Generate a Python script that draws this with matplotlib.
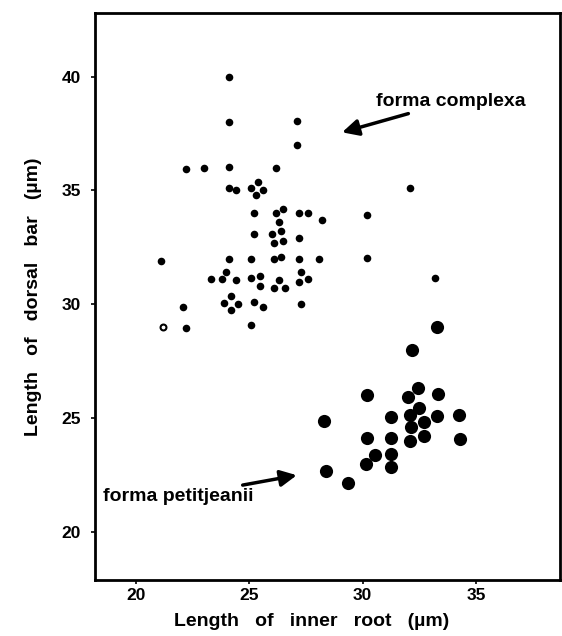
import matplotlib
matplotlib.use("Agg")
import matplotlib.pyplot as plt

plt.rcParams["font.family"] = ["Liberation Sans", "DejaVu Sans"]
plt.rcParams["font.weight"] = "bold"

# forma complexa (small dots)
complexa_x = [24.1, 24.1, 27.1, 27.1, 22.2, 23.0, 24.1, 26.2, 24.1, 24.4,
              25.1, 25.4, 25.6, 25.3, 26.5, 25.2, 26.2, 27.2, 27.6, 28.2,
              26.3, 25.2, 26.0, 26.4, 26.1, 26.5, 27.2, 21.1, 24.1, 25.1,
              26.1, 26.4, 27.2, 28.1, 24.0, 23.3, 23.8, 24.4, 25.1, 25.5,
              25.5, 26.3, 26.1, 26.6, 27.3, 27.2, 27.6, 24.2, 23.9, 24.5,
              24.2, 25.2, 25.6, 27.3, 22.1, 22.2, 25.1, 32.1, 30.2, 30.2,
              33.2]
complexa_y = [40.0, 38.0, 38.05, 37.0, 35.95, 36.0, 36.05, 36.0, 35.1, 35.0,
              35.1, 35.35, 35.0, 34.8, 34.2, 34.0, 34.0, 34.0, 34.0, 33.7,
              33.6, 33.1, 33.1, 33.2, 32.7, 32.8, 32.9, 31.9, 32.0, 32.0,
              32.0, 32.1, 32.0, 32.0, 31.4, 31.1, 31.1, 31.05, 31.15, 31.25,
              30.8, 31.05, 30.7, 30.7, 31.4, 31.0, 31.1, 30.35, 30.05, 30.0,
              29.75, 30.1, 29.9, 30.0, 29.9, 28.95, 29.1, 35.1, 33.9, 32.05,
              31.15]
# one open specimen
open_x = [21.2]
open_y = [29.0]

# forma petitjeanii (large dots)
petit_x = [33.3, 32.2, 30.2, 32.45, 32.0, 33.35, 28.3, 31.25, 32.5, 32.1,
           33.3, 34.25, 32.7, 32.15, 30.2, 31.25, 32.7, 32.1, 34.3, 30.55,
           31.25, 30.15, 31.25, 28.4, 29.35]
petit_y = [29.0, 28.0, 26.0, 26.35, 25.95, 26.05, 24.9, 25.05, 25.45, 25.15,
           25.1, 25.15, 24.85, 24.6, 24.15, 24.15, 24.2, 24.0, 24.1, 23.4,
           23.45, 23.0, 22.85, 22.7, 22.15]

x_ticks = [20, 25, 30, 35]
y_ticks = [20, 25, 30, 35, 40]

fig = plt.figure(figsize=(5.62, 6.36), dpi=100)
ax = fig.add_axes([0.169, 0.088, 0.827, 0.892])

ax.scatter(complexa_x, complexa_y, s=30, color="black", linewidths=0)
ax.scatter(open_x, open_y, s=18, facecolor="white", edgecolor="black", linewidths=1.5)
ax.scatter(petit_x, petit_y, s=90, color="black", linewidths=0)

ax.set_xlim(18.2, 38.7)
ax.set_ylim(17.9, 42.8)
ax.set_xticks(x_ticks)
ax.set_yticks(y_ticks)
ax.tick_params(direction="out", length=3, width=1.2, labelsize=12.5, pad=3)
ax.tick_params(axis="y", pad=7)
for sp in ax.spines.values():
    sp.set_linewidth(2)

ax.set_xlabel("Length   of   inner   root   (\u00b5m)", fontsize=14,
              fontweight="bold")
ax.xaxis.set_label_coords(0.467, -0.058)
ax.set_ylabel("Length   of   dorsal   bar   (\u00b5m)", fontsize=14,
              fontweight="bold", labelpad=14)

ax.annotate("forma complexa", xy=(29.1, 37.55), xytext=(30.6, 38.9),
            fontsize=14, fontweight="bold", va="center", ha="left",
            arrowprops=dict(arrowstyle="-|>,head_width=0.35,head_length=0.7",
                            color="black", lw=2.5, mutation_scale=14,
                            shrinkA=2, shrinkB=0))
ax.annotate("forma petitjeanii", xy=(27.1, 22.5), xytext=(18.55, 21.55),
            fontsize=14, fontweight="bold", va="center", ha="left",
            arrowprops=dict(arrowstyle="-|>,head_width=0.35,head_length=0.7",
                            color="black", lw=2.5, mutation_scale=14,
                            shrinkA=2, shrinkB=0))

fig.savefig("out.png", dpi=100)
